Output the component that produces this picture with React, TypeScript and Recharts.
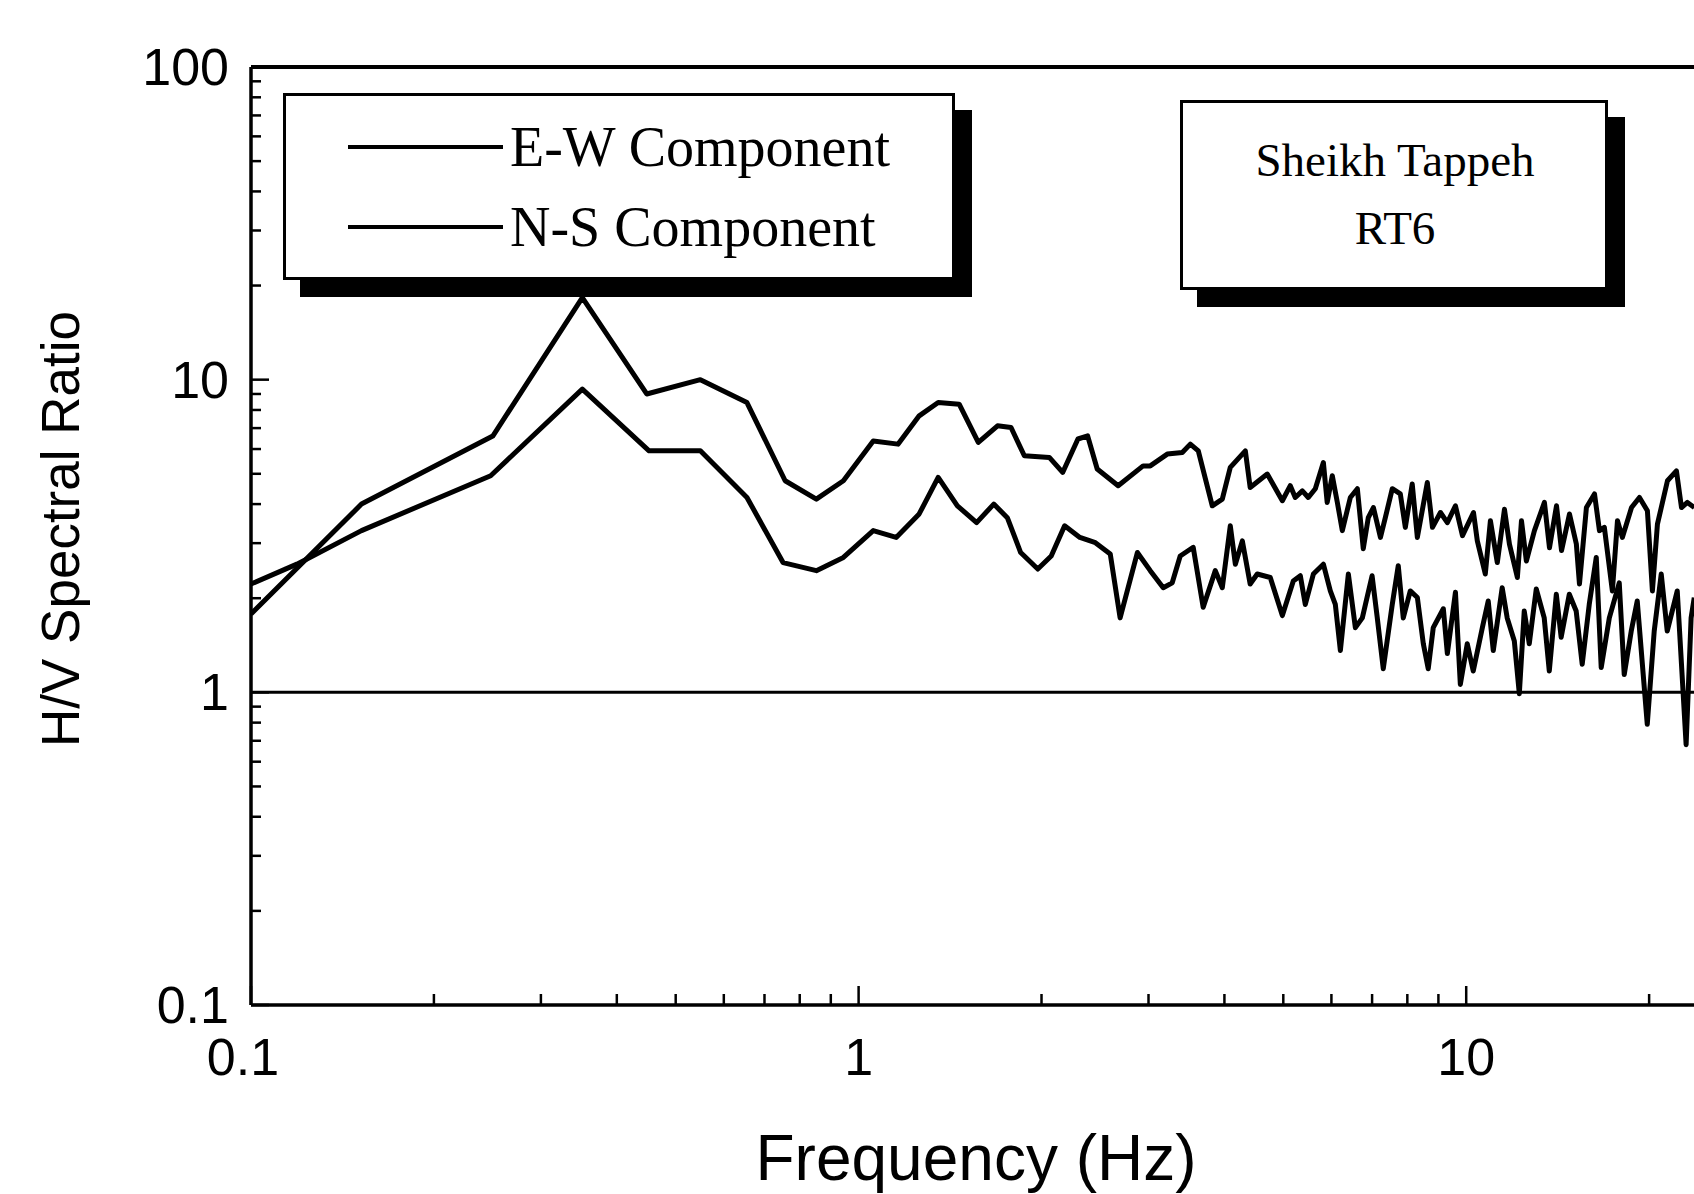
import { ComposedChart, Line, ReferenceLine, XAxis, YAxis } from 'recharts'

// H/V spectral ratio, Sheikh Tappeh RT6
// [frequency Hz, H/V ratio]
const ewSpectrum: [number, number][] = [
  [0.1, 1.78], [0.152, 4.0], [0.25, 6.6], [0.351, 18.3], [0.448, 9.0], [0.549, 10.0],
  [0.655, 8.45], [0.757, 4.75], [0.852, 4.15], [0.944, 4.75], [1.057, 6.37], [1.161, 6.22],
  [1.258, 7.66], [1.352, 8.45], [1.464, 8.35], [1.574, 6.3], [1.693, 7.12], [1.782, 7.03],
  [1.874, 5.71], [2.06, 5.64], [2.167, 5.05], [2.296, 6.46], [2.382, 6.61], [2.47, 5.18],
  [2.674, 4.58], [2.939, 5.3], [3.02, 5.3], [3.221, 5.78], [3.41, 5.85], [3.515, 6.22],
  [3.623, 5.92], [3.82, 3.95], [3.968, 4.15], [4.09, 5.24], [4.33, 5.92], [4.41, 4.52],
  [4.705, 4.99], [4.982, 4.1], [5.134, 4.58], [5.232, 4.2], [5.374, 4.41], [5.497, 4.2],
  [5.645, 4.48], [5.82, 5.43], [5.905, 4.05], [6.02, 4.93], [6.136, 4.05], [6.253, 3.29],
  [6.446, 4.2], [6.62, 4.48], [6.77, 2.88], [6.9, 3.62], [7.035, 3.9], [7.225, 3.13],
  [7.36, 3.62], [7.557, 4.48], [7.79, 4.31], [7.94, 3.37], [8.15, 4.64], [8.31, 3.13],
  [8.63, 4.69], [8.8, 3.37], [9.07, 3.76], [9.31, 3.49], [9.6, 3.95], [9.86, 3.17],
  [10.28, 3.76], [10.43, 3.05], [10.75, 2.39], [10.96, 3.54], [11.25, 2.6], [11.56, 3.85],
  [11.78, 2.98], [12.14, 2.33], [12.33, 3.54], [12.56, 2.63], [12.95, 3.29], [13.45, 4.05],
  [13.71, 2.9], [14.08, 3.95], [14.35, 2.84], [14.79, 3.72], [15.18, 2.98], [15.36, 2.22],
  [15.77, 3.9], [16.26, 4.31], [16.57, 3.29], [16.88, 3.37], [17.4, 2.11], [17.74, 3.54],
  [18.07, 3.13], [18.71, 3.9], [19.28, 4.2], [19.87, 3.81], [20.25, 2.11], [20.64, 3.45],
  [21.44, 4.75], [22.18, 5.11], [22.61, 3.9], [23.12, 4.05], [23.74, 3.9]
]

const nsSpectrum: [number, number][] = [
  [0.1, 2.22], [0.119, 2.57], [0.152, 3.29], [0.248, 4.93], [0.351, 9.33], [0.452, 5.92],
  [0.549, 5.92], [0.655, 4.2], [0.751, 2.6], [0.852, 2.45], [0.944, 2.7], [1.057, 3.29],
  [1.153, 3.13], [1.258, 3.72], [1.352, 4.87], [1.454, 3.95], [1.564, 3.49], [1.669, 4.0],
  [1.757, 3.62], [1.848, 2.8], [1.972, 2.48], [2.075, 2.73], [2.183, 3.41], [2.313, 3.13],
  [2.453, 3.01], [2.595, 2.77], [2.694, 1.73], [2.876, 2.8], [3.02, 2.45], [3.172, 2.16],
  [3.282, 2.24], [3.383, 2.73], [3.554, 2.91], [3.691, 1.87], [3.864, 2.45], [3.968, 2.16],
  [4.09, 3.41], [4.169, 2.57], [4.281, 3.05], [4.41, 2.22], [4.53, 2.39], [4.759, 2.33],
  [4.982, 1.76], [5.193, 2.27], [5.333, 2.36], [5.435, 1.91], [5.603, 2.39], [5.82, 2.57],
  [5.975, 2.11], [6.09, 1.91], [6.207, 1.36], [6.398, 2.39], [6.57, 1.61], [6.746, 1.73],
  [7.0, 2.36], [7.139, 1.73], [7.303, 1.19], [7.556, 1.91], [7.73, 2.54], [7.878, 1.73],
  [8.09, 2.11], [8.31, 2.01], [8.5, 1.43], [8.66, 1.19], [8.826, 1.61], [9.17, 1.85],
  [9.31, 1.33], [9.6, 2.09], [9.78, 1.06], [10.04, 1.43], [10.27, 1.17], [10.63, 1.61],
  [10.87, 1.96], [11.08, 1.36], [11.46, 2.16], [11.68, 1.73], [12.0, 1.46], [12.23, 0.99],
  [12.46, 1.82], [12.7, 1.43], [13.04, 2.14], [13.44, 1.73], [13.7, 1.17], [14.07, 2.06],
  [14.33, 1.5], [14.78, 2.06], [15.17, 1.82], [15.52, 1.23], [15.94, 1.91], [16.37, 2.7],
  [16.68, 1.2], [17.2, 1.73], [17.86, 2.24], [18.2, 1.14], [18.69, 1.57], [19.12, 1.96],
  [19.86, 0.79], [20.39, 1.57], [20.94, 2.39], [21.42, 1.57], [22.25, 2.11], [23.01, 0.68],
  [23.45, 1.73], [23.73, 2.01]
]

const xTicks = [0.1, 0.2, 0.3, 0.4, 0.5, 0.6, 0.7, 0.8, 0.9, 1, 2, 3, 4, 5, 6, 7, 8, 9, 10, 20]
const xMajor = [0.1, 1, 10]
const yTicks = [
  0.1, 0.2, 0.3, 0.4, 0.5, 0.6, 0.7, 0.8, 0.9, 1, 2, 3, 4, 5, 6, 7, 8, 9,
  10, 20, 30, 40, 50, 60, 70, 80, 90, 100
]
const yMajor = [0.1, 1, 10, 100]

const legendItems = ['E-W Component', 'N-S Component']
const siteLines = ['Sheikh Tappeh', 'RT6']

const SANS = "'Liberation Sans', Arial, Helvetica, sans-serif"
const SERIF = "'Liberation Serif', 'Times New Roman', serif"

const ewData = ewSpectrum.map(([f, v]) => ({ f, v }))
const nsData = nsSpectrum.map(([f, v]) => ({ f, v }))

function YTick(props: any) {
  const { x, y, payload } = props
  const major = yMajor.includes(payload.value)
  return (
    <g>
      <line x1={x} x2={x + (major ? 18 : 10)} y1={y} y2={y} stroke="#000" strokeWidth={2.5} />
      {major && (
        <text
          x={x - 22}
          y={y}
          textAnchor="end"
          dominantBaseline="central"
          fontSize={52}
          fontFamily={SANS}
          fill="#000"
        >
          {String(payload.value)}
        </text>
      )}
    </g>
  )
}

function XTick(props: any) {
  const { x, y, payload } = props
  const major = xMajor.includes(payload.value)
  return (
    <g>
      <line x1={x} x2={x} y1={y} y2={y - (major ? 19 : 11)} stroke="#000" strokeWidth={2.5} />
      {major && (
        <text
          x={payload.value === 0.1 ? x - 8 : x}
          y={y + 52}
          textAnchor="middle"
          dominantBaseline="central"
          fontSize={52}
          fontFamily={SANS}
          fill="#000"
        >
          {String(payload.value)}
        </text>
      )}
    </g>
  )
}

const boxStyle: React.CSSProperties = {
  position: 'absolute',
  boxSizing: 'border-box',
  background: '#fff',
  border: '3px solid #000',
  boxShadow: '17px 17px 0 0 #000'
}

export default function App() {
  return (
    <div
      style={{
        position: 'absolute',
        left: 0,
        top: 0,
        width: 1694,
        height: 1194,
        overflow: 'hidden',
        background: '#fff'
      }}
    >
      <ComposedChart width={1740} height={1194} margin={{ top: 67, right: 32, bottom: 0, left: 0 }}>
        <XAxis
          dataKey="f"
          type="number"
          scale="log"
          domain={[0.1, 25]}
          ticks={xTicks}
          interval={0}
          allowDataOverflow
          height={189}
          tickSize={0}
          tickMargin={0}
          tickLine={false}
          axisLine={{ stroke: '#000', strokeWidth: 3.5 }}
          tick={(p: any) => <XTick {...p} />}
        />
        <YAxis
          type="number"
          scale="log"
          domain={[0.1, 100]}
          ticks={yTicks}
          interval={0}
          allowDataOverflow
          width={251}
          tickSize={0}
          tickMargin={0}
          tickLine={false}
          axisLine={{ stroke: '#000', strokeWidth: 3.5 }}
          tick={(p: any) => <YTick {...p} />}
        />
        <ReferenceLine y={100} stroke="#000" strokeWidth={4} />
        <ReferenceLine x={25} stroke="#000" strokeWidth={3} />
        <ReferenceLine y={1} stroke="#000" strokeWidth={3} />
        <Line
          data={ewData}
          dataKey="v"
          name="E-W Component"
          type="linear"
          stroke="#000"
          strokeWidth={5}
          strokeLinejoin="round"
          dot={false}
          activeDot={false}
          isAnimationActive={false}
        />
        <Line
          data={nsData}
          dataKey="v"
          name="N-S Component"
          type="linear"
          stroke="#000"
          strokeWidth={5}
          strokeLinejoin="round"
          dot={false}
          activeDot={false}
          isAnimationActive={false}
        />
      </ComposedChart>

      {/* legend box */}
      <div style={{ ...boxStyle, left: 283, top: 93, width: 672, height: 187 }} />
      {legendItems.map((name, i) => (
        <div key={name}>
          <div
            style={{
              position: 'absolute',
              left: 348,
              top: 145 + i * 80,
              width: 155,
              height: 4,
              background: '#000'
            }}
          />
          <div
            style={{
              position: 'absolute',
              left: 510,
              top: 147 + i * 80,
              transform: 'translateY(-50%)',
              fontFamily: SERIF,
              fontSize: 56,
              lineHeight: 1,
              whiteSpace: 'nowrap',
              color: '#000'
            }}
          >
            {name}
          </div>
        </div>
      ))}

      {/* site box */}
      <div style={{ ...boxStyle, left: 1180, top: 100, width: 428, height: 190 }} />
      {siteLines.map((t, i) => (
        <div
          key={t}
          style={{
            position: 'absolute',
            left: 1395,
            top: 160 + i * 68,
            transform: 'translate(-50%, -50%)',
            fontFamily: SERIF,
            fontSize: 47,
            lineHeight: 1,
            whiteSpace: 'nowrap',
            color: '#000'
          }}
        >
          {t}
        </div>
      ))}

      {/* axis titles */}
      <div
        style={{
          position: 'absolute',
          left: 976,
          top: 1158,
          transform: 'translate(-50%, -50%)',
          fontFamily: SANS,
          fontSize: 64,
          lineHeight: 1,
          whiteSpace: 'nowrap',
          color: '#000'
        }}
      >
        Frequency (Hz)
      </div>
      <div
        style={{
          position: 'absolute',
          left: 60,
          top: 529,
          transform: 'translate(-50%, -50%) rotate(-90deg)',
          fontFamily: SANS,
          fontSize: 53,
          lineHeight: 1,
          whiteSpace: 'nowrap',
          color: '#000'
        }}
      >
        H/V Spectral Ratio
      </div>
    </div>
  )
}
